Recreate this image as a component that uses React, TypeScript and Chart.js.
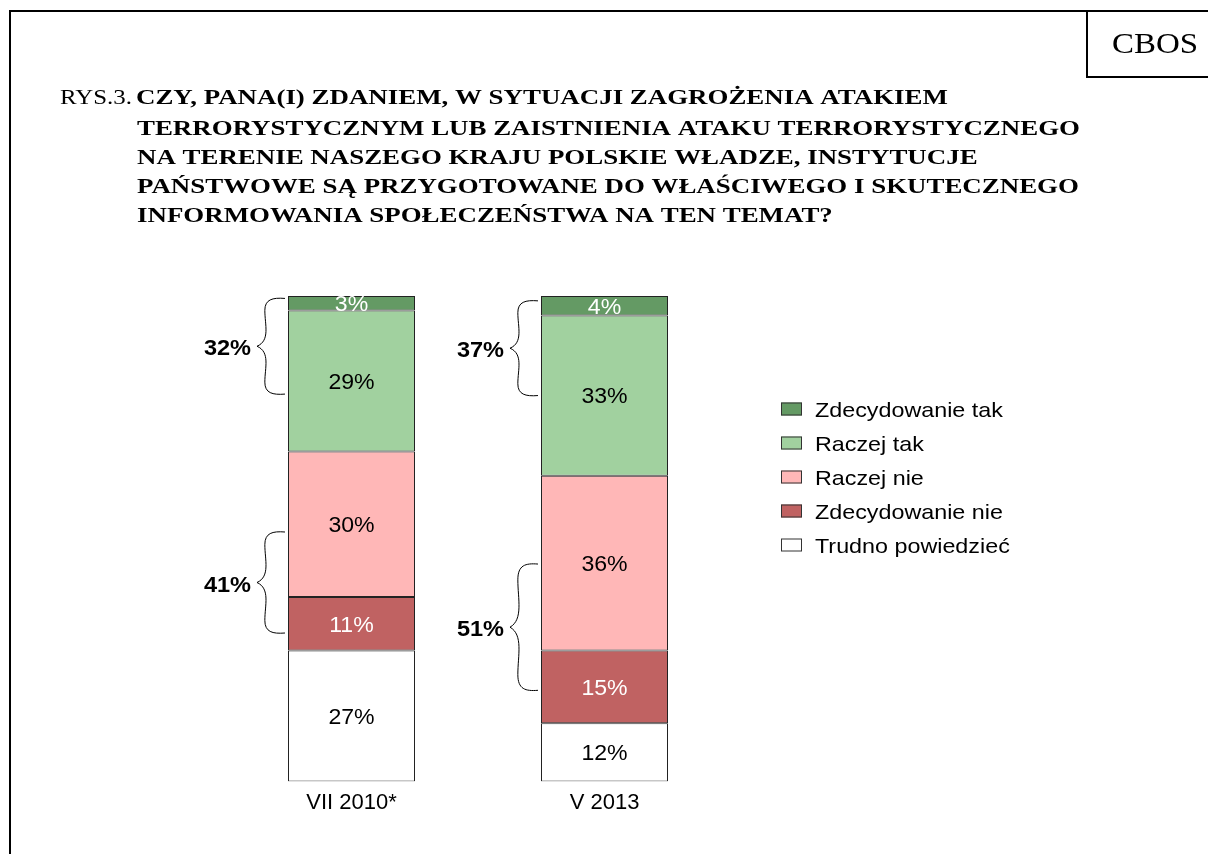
import React, { useEffect, useRef } from "react";
import { Chart, registerables } from "chart.js";

Chart.register(...registerables);

// ---------- data ----------
const categories = ["VII 2010*", "V 2013"];
const seriesNames = ["Zdecydowanie tak", "Raczej tak", "Raczej nie", "Zdecydowanie nie", "Trudno powiedzieć"];
const zdecydowanieTak = [3, 4];
const raczejTak = [29, 33];
const raczejNie = [30, 36];
const zdecydowanieNie = [11, 15];
const trudnoPowiedziec = [27, 12];
const seriesColors = ["#649A64", "#A1D19F", "#FFB7B7", "#C06262", "#FFFFFF"];
const labelColors = ["#FFFFFF", "#000000", "#000000", "#FFFFFF", "#000000"];

// brace annotations (sums), expressed in value units of the stacked axis
const braceLabels = ["32%", "41%", "37%", "51%"];
const braceCategory = [0, 0, 1, 1];
const braceFrom = [0.5, 48.6, 1.0, 55.2];
const braceTo = [20.2, 69.4, 20.5, 81.2];

const titlePrefix = "RYS.3.";
const titleLines = [
  "CZY, PANA(I) ZDANIEM, W SYTUACJI ZAGROŻENIA ATAKIEM",
  "TERRORYSTYCZNYM LUB ZAISTNIENIA ATAKU TERRORYSTYCZNEGO",
  "NA TERENIE NASZEGO KRAJU POLSKIE WŁADZE, INSTYTUCJE",
  "PAŃSTWOWE SĄ PRZYGOTOWANE DO WŁAŚCIWEGO I SKUTECZNEGO",
  "INFORMOWANIA SPOŁECZEŃSTWA NA TEN TEMAT?",
];
const brandText = "CBOS";

const SANS = "'Liberation Sans', Arial, sans-serif";
const SERIF = "'Liberation Serif', 'Times New Roman', serif";

function stretchText(ctx: CanvasRenderingContext2D, text: string, x: number, y: number, font: string, sx: number, align: CanvasTextAlign, color: string) {
  ctx.save();
  ctx.font = font;
  ctx.fillStyle = color;
  ctx.textAlign = align;
  ctx.textBaseline = "alphabetic";
  ctx.translate(x, y);
  ctx.scale(sx, 1);
  ctx.fillText(text, 0, 0);
  ctx.restore();
}

function drawBrace(ctx: CanvasRenderingContext2D, xr: number, y1: number, y2: number, xt: number) {
  const w = xr - xt;
  const ym = (y1 + y2) / 2;
  const h = ym - y1;
  const xs = xt + w * 0.28;
  ctx.save();
  ctx.strokeStyle = "#000";
  ctx.lineWidth = 1;
  ctx.beginPath();
  ctx.moveTo(xr, y1);
  ctx.bezierCurveTo(xr - w * 0.45, y1 - 1, xs, y1 + 1, xs, y1 + h * 0.25);
  ctx.bezierCurveTo(xs, y1 + h * 0.55, xs + w * 0.2, ym - h * 0.12, xt, ym);
  ctx.bezierCurveTo(xs + w * 0.2, ym + h * 0.12, xs, y2 - h * 0.55, xs, y2 - h * 0.25);
  ctx.bezierCurveTo(xs, y2 - 1, xr - w * 0.45, y2 + 1, xr, y2);
  ctx.stroke();
  ctx.restore();
}

const decorPlugin = {
  id: "decor",
  afterDatasetsDraw(chart: any) {
    const ctx: CanvasRenderingContext2D = chart.ctx;
    const yScale = chart.scales.y;
    // data labels
    chart.data.datasets.forEach((ds: any, i: number) => {
      const meta = chart.getDatasetMeta(i);
      meta.data.forEach((bar: any, j: number) => {
        const cy = (bar.y + bar.base) / 2;
        stretchText(ctx, ds.data[j] + "%", bar.x, cy + 7.8, `22px ${SANS}`, 1.05, "center", labelColors[i]);
      });
    });
    // braces
    braceLabels.forEach((lab, k) => {
      const bar: any = chart.getDatasetMeta(0).data[braceCategory[k]];
      const left = bar.x - bar.width / 2;
      const xr = left - 3;
      const xt = left - 31;
      const y1 = yScale.getPixelForValue(braceFrom[k]);
      const y2 = yScale.getPixelForValue(braceTo[k]);
      drawBrace(ctx, xr, y1, y2, xt);
      stretchText(ctx, lab, xt - 6, (y1 + y2) / 2 + 9, `bold 22px ${SANS}`, 1.07, "right", "#000");
    });
  },
  afterDraw(chart: any) {
    const ctx: CanvasRenderingContext2D = chart.ctx;
    // frame
    ctx.save();
    ctx.strokeStyle = "#000";
    ctx.lineWidth = 2;
    ctx.beginPath();
    ctx.moveTo(9, 11);
    ctx.lineTo(1208, 11);
    ctx.moveTo(10, 10);
    ctx.lineTo(10, 854);
    ctx.moveTo(1087, 10);
    ctx.lineTo(1087, 77);
    ctx.lineTo(1208, 77);
    ctx.stroke();
    ctx.restore();
    // brand
    ctx.save();
    ctx.font = `30px ${SERIF}`;
    const bw = ctx.measureText(brandText).width;
    ctx.restore();
    stretchText(ctx, brandText, 1155, 53, `30px ${SERIF}`, 86 / bw, "center", "#000");
    // title
    const boldFont = `bold 22px ${SERIF}`;
    ctx.save();
    ctx.font = boldFont;
    const w2 = ctx.measureText(titleLines[1]).width;
    ctx.font = `21px ${SERIF}`;
    const wp = ctx.measureText(titlePrefix).width;
    ctx.restore();
    const tsx = (1080 - 137) / w2;
    stretchText(ctx, titlePrefix, 60, 104, `21px ${SERIF}`, 72 / wp, "left", "#000");
    const baselines = [104, 135, 164, 193, 222];
    titleLines.forEach((line, i) => {
      stretchText(ctx, line, i === 0 ? 136 : 137, baselines[i], boldFont, tsx, "left", "#000");
    });
    // legend
    seriesNames.forEach((name, i) => {
      const cy = 409 + 34 * i;
      ctx.save();
      ctx.fillStyle = seriesColors[i];
      ctx.strokeStyle = "#333";
      ctx.lineWidth = 1;
      ctx.fillRect(781, cy - 6.5, 21, 13);
      ctx.strokeRect(781.5, cy - 6, 20, 12);
      ctx.restore();
      stretchText(ctx, name, 815, cy + 7.5, `21px ${SANS}`, 1.11, "left", "#000");
    });
  },
};

export default function App() {
  const ref = useRef<HTMLCanvasElement | null>(null);
  useEffect(() => {
    if (!ref.current) return;
    const series = [zdecydowanieTak, raczejTak, raczejNie, zdecydowanieNie, trudnoPowiedziec];
    const chart = new Chart(ref.current, {
      type: "bar",
      data: {
        labels: categories,
        datasets: series.map((d, i) => ({
          label: seriesNames[i],
          data: d,
          backgroundColor: seriesColors[i],
          borderColor: "#222222",
          borderWidth: 1,
          borderSkipped: false,
          categoryPercentage: 1,
          barPercentage: 0.502,
        })),
      },
      options: {
        responsive: true,
        maintainAspectRatio: false,
        animation: false,
        layout: { padding: { left: 225, right: 477, top: 296, bottom: 30 } },
        scales: {
          x: {
            stacked: true,
            grid: { display: false, drawTicks: false },
            border: { display: false },
            ticks: { color: "#000", font: { family: SANS, size: 22 }, padding: 8 },
          },
          y: { stacked: true, display: false, min: 0, max: 100, reverse: true },
        },
        plugins: { legend: { display: false }, tooltip: { enabled: false } },
      },
      plugins: [decorPlugin],
    });
    return () => chart.destroy();
  }, []);
  return (
    <div style={{ position: "fixed", left: 0, top: 0, width: 1208, height: 854, background: "#fff" }}>
      <canvas ref={ref} />
    </div>
  );
}
